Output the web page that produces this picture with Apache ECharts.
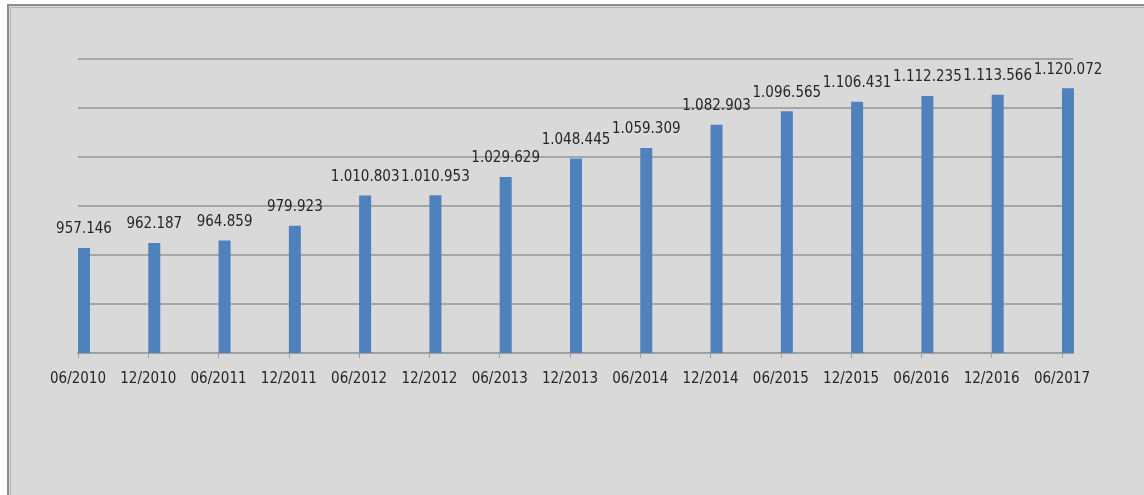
<!DOCTYPE html>
<html>
<head>
<meta charset="utf-8">
<script src="https://cdn.jsdelivr.net/npm/echarts@6/dist/echarts.min.js"></script>
<style>
html,body{margin:0;padding:0;background:#fff;}
#c{width:1144px;height:495px;}
</style>
</head>
<body>
<div id="c"></div>
<script>
const categories = ['06/2010','12/2010','06/2011','12/2011','06/2012','12/2012','06/2013','12/2013','06/2014','12/2014','06/2015','12/2015','06/2016','12/2016','06/2017'];
const values = [957146, 962187, 964859, 979923, 1010803, 1010953, 1029629, 1048445, 1059309, 1082903, 1096565, 1106431, 1112235, 1113566, 1120072];

function fmt(v){ return String(v).replace(/\B(?=(\d{3})+(?!\d))/g, '.'); }

const chart = echarts.init(document.getElementById('c'));
const FONT = "'DejaVu Sans Condensed','DejaVu Sans',sans-serif";
const idx = categories.map((_, i) => i);
chart.setOption({
  backgroundColor: '#ffffff',
  animation: false,
  graphic: [
    { type: 'rect', z: -10, shape: { x: 8, y: 5, width: 1200, height: 600 },
      style: { fill: '#d9d9d9', stroke: '#8c8c8c', lineWidth: 2 } },
    { type: 'rect', z: -9, shape: { x: 10.5, y: 7.5, width: 1200, height: 600 },
      style: { fill: 'none', stroke: '#b4b4b4', lineWidth: 1 } }
  ],
  grid: { left: 78, right: 71, top: 59, bottom: 142 },
  xAxis: {
    type: 'value', min: 0, max: categories.length - 1 + 0.157, interval: 1,
    splitLine: { show: false },
    axisLine: { show: true, onZero: false, lineStyle: { color: '#a0a0a0', width: 2 } },
    axisTick: { show: true, length: 5, customValues: idx, lineStyle: { color: '#a0a0a0', width: 1 } },
    axisLabel: { customValues: idx, margin: 19, color: '#262626', fontFamily: FONT, fontSize: 15,
      formatter: v => categories[Math.round(v)] || '' }
  },
  yAxis: {
    type: 'value', min: 850000, max: 1150000, interval: 50000,
    axisLabel: { show: false }, axisTick: { show: false }, axisLine: { show: false },
    splitLine: { lineStyle: { color: '#a6a6a6', width: 2 } }
  },
  series: [
    { type: 'bar', name: 'pad', data: [], barWidth: 12, barGap: '0%' },
    { type: 'bar', name: 'v', barWidth: 12, barGap: '0%',
      data: values.map((v, i) => [i, v]),
      itemStyle: { color: '#4f81bd' },
      label: { show: true, position: 'top', distance: 11, color: '#262626', fontFamily: FONT, fontSize: 15,
        formatter: p => fmt(p.value[1]) } }
  ]
});
</script>
</body>
</html>
